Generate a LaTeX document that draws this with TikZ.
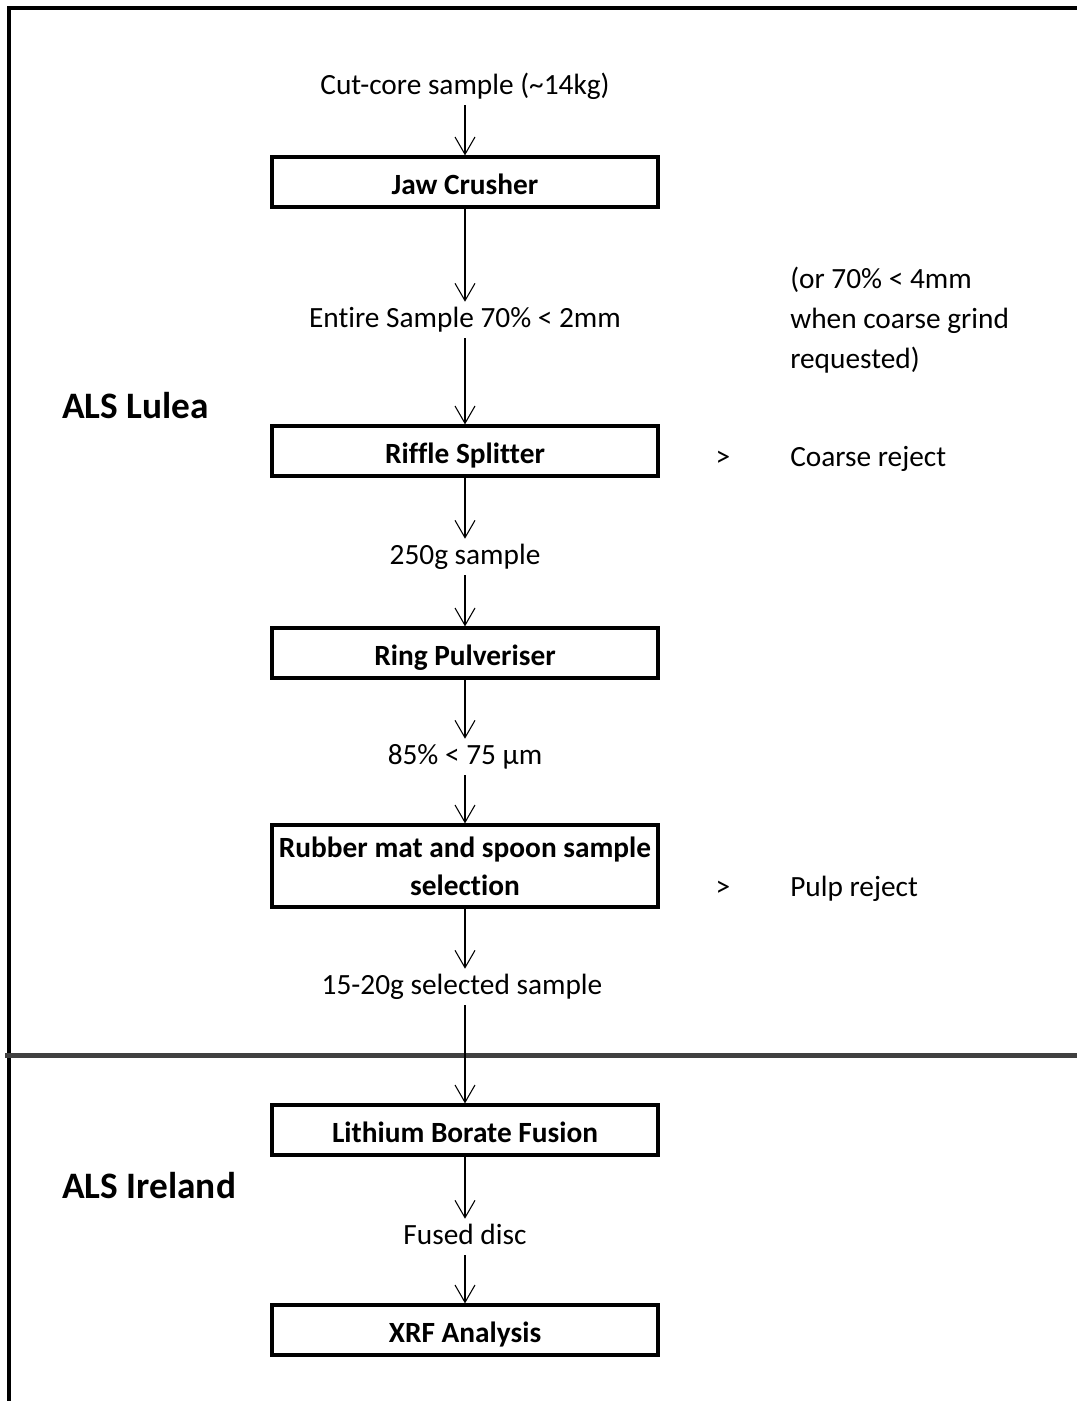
\documentclass[tikz,border=0pt]{standalone}
\usepackage{fontspec}
\setmainfont{Carlito}[Ligatures={NoCommon}]
\usepackage{tikz}
\usetikzlibrary{arrows.meta}
\tikzstyle{process} = [rectangle, minimum width=289.5pt, minimum height=37.5pt, inner xsep=2pt, text centered, align=center, draw=black, line width=2.4pt, font=\fontsize{22}{28.5}\selectfont\bfseries]
\tikzstyle{oneline} = [text height=20pt, text depth=1pt]
\tikzstyle{flowtext} = [text centered, font=\fontsize{22}{30}\selectfont, text height=15pt, text depth=4pt, inner sep=4pt]
\tikzstyle{note} = [anchor=west, align=left, inner sep=0pt, font=\fontsize{22}{30}\selectfont]
\tikzstyle{site} = [anchor=west, inner sep=0pt, font=\fontsize{28}{34}\selectfont\bfseries]
\tikzstyle{arrow} = [line width=1.1pt, -{Straight Barb[length=13pt,width=15pt,line width=0.8pt]}]
\tikzstyle{boldarrow} = [arrow, line width=2pt]

\begin{document}
\begin{tikzpicture}[x=0.75pt, y=-0.75pt]
	\useasboundingbox (0,0) rectangle (1077,1401);
	\draw[line width=3pt] (8.5,1401) -- (8.5,8.5) -- (1077,8.5);
	\draw[line width=3.75pt, black!75] (5,1055.5) -- (1077,1055.5);

	\node(als_lulea) [site] at (62,406) {ALS Lulea};
	\node(als_ireland) [site] at (62,1186) {ALS Ireland};

	\node(cut_core) [flowtext] at (465,87) {Cut-core sample (\textasciitilde14kg)};
	\node(jaw_crusher) [process, oneline] at (465,182) {Jaw Crusher};
	\node(entire_sample) [flowtext] at (465,320) {Entire Sample 70\% < 2mm};
	\node(riffle_splitter) [process, oneline] at (465,451) {Riffle Splitter};
	\node(sample_250g) [flowtext] at (465,557) {250g sample};
	\node(ring_pulveriser) [process, oneline] at (465,653) {Ring Pulveriser};
	\node(pulp_85) [flowtext] at (465,757) {85\% < 75 µm};
	\node(rubber_mat) [process, minimum height=61.5pt] at (465,866) {Rubber mat and spoon sample\\selection};
	\node(selected_sample) [flowtext] at (462,987) {15-20g selected sample};
	\node(lithium_fusion) [process, oneline] at (465,1130) {Lithium Borate Fusion};
	\node(fused_disc) [flowtext] at (465,1237) {Fused disc};
	\node(xrf_analysis) [process, oneline] at (465,1330) {XRF Analysis};

	\node(coarse_note) [note] at (790,320) {(or 70\% < 4mm\\when coarse grind\\requested)};
	\node(coarse_sign) [flowtext] at (723,459) {>};
	\node(coarse_reject) [note] at (790,459) {Coarse reject};
	\node(pulp_sign) [flowtext] at (723,889) {>};
	\node(pulp_reject) [note] at (790,889) {Pulp reject};

	\draw[arrow] (cut_core) -- (jaw_crusher);
	\draw[arrow] (jaw_crusher) -- (entire_sample);
	\draw[boldarrow] (entire_sample) -- (riffle_splitter);
	\draw[boldarrow] (riffle_splitter) -- (sample_250g);
	\draw[boldarrow] (sample_250g) -- (ring_pulveriser);
	\draw[arrow] (ring_pulveriser) -- (pulp_85);
	\draw[boldarrow] (pulp_85) -- (rubber_mat);
	\draw[boldarrow] (rubber_mat) -- (rubber_mat |- selected_sample.north);
	\draw[arrow] (selected_sample.south -| lithium_fusion) -- (lithium_fusion);
	\draw[arrow] (lithium_fusion) -- (fused_disc);
	\draw[arrow] (fused_disc) -- (xrf_analysis);
\end{tikzpicture}
\end{document}
